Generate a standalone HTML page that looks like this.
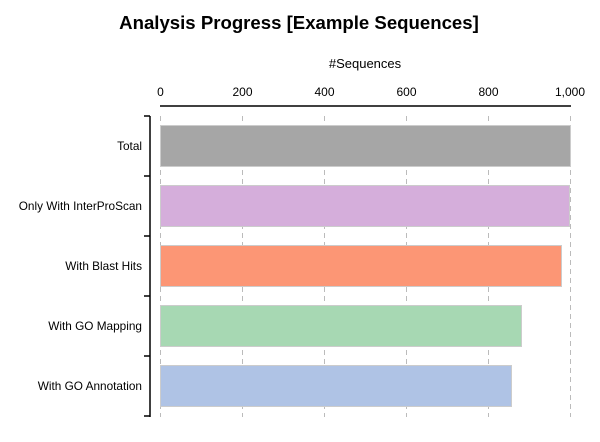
<!DOCTYPE html>
<html><head><style>body{margin:0;background:#fff}</style></head><body>
<svg width="600" height="437" xmlns="http://www.w3.org/2000/svg" font-family="Liberation Sans, sans-serif">
<rect width="600" height="437" fill="#fff"/>
<text x="299" y="29" text-anchor="middle" font-size="18.6" font-weight="bold">Analysis Progress [Example Sequences]</text>
<text x="365" y="68" text-anchor="middle" font-size="13">#Sequences</text>
<g font-size="12" text-anchor="middle">
<text x="160.5" y="96">0</text><text x="242.5" y="96">200</text><text x="324.5" y="96">400</text><text x="406.5" y="96">600</text><text x="488.5" y="96">800</text><text x="570" y="96">1,000</text>
</g>
<line x1="160" y1="106" x2="571" y2="106" stroke="#000" stroke-width="1.5"/>
<g stroke="#bbb" stroke-dasharray="5,4">
<line x1="160.5" y1="116" x2="160.5" y2="417"/><line x1="242.5" y1="116" x2="242.5" y2="417"/><line x1="324.5" y1="116" x2="324.5" y2="417"/><line x1="406.5" y1="116" x2="406.5" y2="417"/><line x1="488.5" y1="116" x2="488.5" y2="417"/><line x1="570.5" y1="116" x2="570.5" y2="417"/>
</g>
<g stroke="#ccc" stroke-width="1">
<rect x="160.5" y="125.5" width="410" height="41" fill="#a6a6a6"/>
<rect x="160.5" y="185.5" width="409" height="41" fill="#d5aedb"/>
<rect x="160.5" y="245.5" width="401" height="41" fill="#fc9675"/>
<rect x="160.5" y="305.5" width="361" height="41" fill="#a7d8b3"/>
<rect x="160.5" y="365.5" width="351" height="41" fill="#afc3e5"/>
</g>
<g stroke="#000" stroke-width="1.5">
<line x1="150" y1="116" x2="150" y2="417"/>
<line x1="144" y1="116" x2="150" y2="116"/><line x1="144" y1="176" x2="150" y2="176"/><line x1="144" y1="236" x2="150" y2="236"/><line x1="144" y1="296" x2="150" y2="296"/><line x1="144" y1="356" x2="150" y2="356"/><line x1="144" y1="416" x2="150" y2="416"/>
</g>
<g font-size="11.8" text-anchor="end">
<text x="142" y="150">Total</text>
<text x="142" y="210">Only With InterProScan</text>
<text x="142" y="270">With Blast Hits</text>
<text x="142" y="330">With GO Mapping</text>
<text x="142" y="390">With GO Annotation</text>
</g>
</svg>
</body></html>
